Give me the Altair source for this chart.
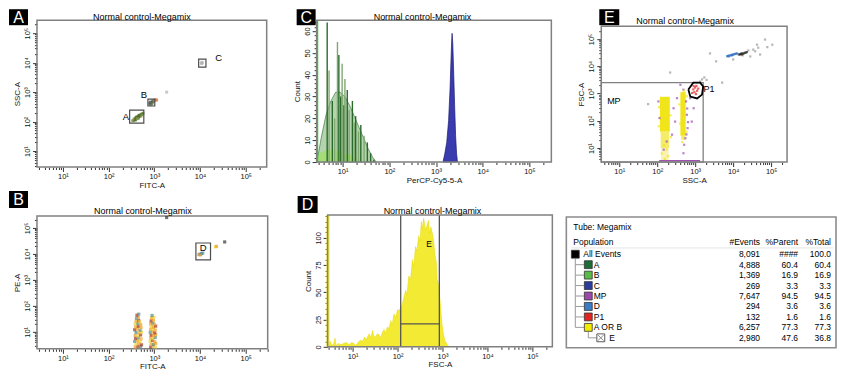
import math
import altair as alt
import pandas as pd

FONT = "Liberation Sans"
FRAME = "#808080"
GATE = "#4d4d4d"

# ======================= DATA =======================
# ---- Panel A: FITC-A vs SSC-A (log10 of event coordinates) ----
A_EV_LX = [2.53, 2.55, 2.57, 2.58, 2.60, 2.61, 2.63, 2.64, 2.66, 2.67, 2.69, 2.70, 2.72, 2.73, 2.75,
           2.56, 2.59, 2.62, 2.65, 2.68, 2.71, 2.60, 2.66, 2.63,
           2.90, 2.92, 2.94, 2.96, 2.93, 2.95, 2.91, 2.97, 3.00, 3.03, 3.05,
           4.03, 4.05, 4.04, 3.27]
A_EV_LY = [2.03, 2.05, 2.06, 2.09, 2.10, 2.12, 2.13, 2.15, 2.17, 2.18, 2.20, 2.22, 2.24, 2.26, 2.28,
           2.09, 2.06, 2.16, 2.12, 2.22, 2.19, 2.14, 2.20, 2.10,
           2.60, 2.63, 2.65, 2.67, 2.58, 2.61, 2.66, 2.70, 2.72, 2.74, 2.73,
           3.97, 3.99, 4.01, 3.00]
A_EV_POP = ["a1", "a2", "a1", "a1", "a2", "a1", "a3", "a1", "a2", "a1", "a1", "a3", "a1", "a2", "a1",
            "a2", "a1", "a1", "a3", "a1", "a2", "a1", "a1", "a2",
            "b1", "b1", "b2", "b1", "b1", "b2", "b1", "b1", "b3", "b3", "b3",
            "c", "c", "c", "c"]
A_GATE_NAME = ["A", "B", "C"]
A_GATE_X0 = [2.46, 2.86, 3.97]
A_GATE_X1 = [2.77, 3.01, 4.13]
A_GATE_Y0 = [1.95, 2.53, 3.85]
A_GATE_Y1 = [2.39, 2.76, 4.12]
A_GATE_LX = [2.38, 2.77, 4.41]
A_GATE_LY = [2.15, 2.89, 4.15]

# ---- Panel B: FITC-A vs PE-A ----
B_EV_LX = [2.58, 2.64, 2.70, 2.60, 2.66, 2.72, 2.57, 2.63, 2.69, 2.59, 2.65, 2.71, 2.58, 2.64, 2.70,
           2.60, 2.66, 2.72, 2.57, 2.63, 2.69, 2.59, 2.65, 2.71, 2.58, 2.64, 2.70, 2.60, 2.66, 2.68,
           2.61, 2.65, 2.62, 2.66,
           2.92, 2.97, 3.02, 2.93, 2.98, 3.03, 2.91, 2.96, 3.01, 2.92, 2.97, 3.02, 2.93, 2.98, 3.03,
           2.91, 2.96, 3.01, 2.92, 2.97, 3.02, 2.93, 2.98, 3.03, 2.92, 2.97, 3.00, 2.93, 2.98,
           2.94, 2.99, 2.95,
           3.97, 4.00, 4.03, 4.06, 4.01, 4.34, 4.36, 4.54, 3.27]
B_EV_LY = [0.42, 0.44, 0.43, 0.52, 0.55, 0.50, 0.63, 0.66, 0.62, 0.75, 0.77, 0.73, 0.86, 0.84, 0.88,
           0.97, 0.95, 0.99, 1.08, 1.10, 1.06, 1.19, 1.21, 1.17, 1.30, 1.32, 1.28, 1.41, 1.43, 1.39,
           1.52, 1.55, 1.64, 1.68,
           0.41, 0.45, 0.42, 0.53, 0.51, 0.55, 0.64, 0.67, 0.62, 0.76, 0.73, 0.78, 0.87, 0.85, 0.89,
           0.98, 1.00, 0.96, 1.09, 1.11, 1.07, 1.20, 1.18, 1.22, 1.31, 1.33, 1.29, 1.42, 1.44,
           1.53, 1.56, 1.63,
           3.97, 3.99, 4.01, 4.03, 3.96, 4.27, 4.29, 4.46, 5.40]
B_EV_POP = ["o", "r", "t", "y", "o", "r", "t", "o", "y", "r", "t", "o", "o", "y", "r",
            "t", "o", "y", "r", "o", "t", "o", "r", "o", "y", "t", "o", "o", "r", "y",
            "t", "o", "r", "t",
            "r", "o", "y", "o", "t", "o", "y", "r", "o", "o", "y", "t", "r", "o", "o",
            "t", "o", "r", "o", "y", "o", "y", "o", "r", "o", "t", "o", "r", "o",
            "o", "y", "t",
            "o", "t", "b", "t", "o", "y", "o", "k", "k"]
B_GATE_X0, B_GATE_X1 = [3.91], [4.23]
B_GATE_Y0, B_GATE_Y1 = [3.77], [4.42]
B_GATE_LX, B_GATE_LY = [4.07], [4.24]

# ---- Panel C: PerCP-Cy5-5-A histogram ----
C_SPIKE_LX = [0.67, 0.71, 0.78, 0.83, 0.89, 0.92, 0.96, 0.99, 1.03, 1.05, 1.10, 1.14, 1.21, 1.25,
              1.28, 1.34, 1.39, 1.46, 1.53, 1.60, 1.67]
C_SPIKE_CT = [64, 42, 28, 20, 55, 49, 30, 45, 26, 38, 33, 24, 28, 18, 21, 14, 17, 12, 9, 4, 1]
C_SPIKE_POP = ["A", "B", "A", "B", "B", "A", "A", "B", "A", "B", "A", "B", "A", "B", "A", "B",
               "A", "B", "A", "A", "A"]
C_ENV_A_LX = [0.45, 0.55, 0.65, 0.75, 0.85, 0.95, 1.05, 1.15, 1.25, 1.35, 1.45, 1.55, 1.65, 1.72]
C_ENV_A_CT = [0, 12, 22, 28, 32, 32, 30, 26, 21, 16, 11, 6, 2, 0]
C_ENV_B_LX = [0.45, 0.50, 0.70, 0.90, 1.10, 1.30, 1.45]
C_ENV_B_CT = [0, 4, 6, 5, 4, 2, 0]
C_EDGE_LX, C_EDGE_CT = [0.455], [65]
C_PEAK_LX = [3.15, 3.19, 3.23, 3.27, 3.30, 3.32, 3.335, 3.345, 3.36, 3.38, 3.40, 3.42, 3.44, 3.46]
C_PEAK_CT = [0, 4, 9, 19, 33, 46, 55, 59, 54, 40, 25, 12, 4, 0]

# ---- Panel D: FSC-A histogram of "A OR B" ----
D_LX = [0.45, 0.50, 0.54, 0.58, 0.61, 0.63, 0.68, 0.74, 0.80, 0.86, 0.92, 0.98, 1.03, 1.07, 1.12,
        1.17, 1.22, 1.27, 1.30, 1.33, 1.37, 1.41, 1.44, 1.47, 1.51, 1.55, 1.59, 1.62, 1.66, 1.70,
        1.73, 1.77, 1.81, 1.85, 1.88, 1.92, 1.96, 2.00, 2.03, 2.07, 2.10, 2.14, 2.18, 2.21, 2.25,
        2.29, 2.33, 2.36, 2.40, 2.43, 2.47, 2.50, 2.53, 2.55, 2.58, 2.61, 2.63, 2.66, 2.69, 2.71,
        2.74, 2.77, 2.80, 2.83, 2.86, 2.88, 2.91, 2.93, 2.96, 2.99, 3.02, 3.05, 3.09, 3.12, 3.17]
D_CT = [0, 5, 1, 3, 8, 1, 3, 2, 3, 4, 2, 4, 3, 1, 4,
        6, 5, 9, 6, 9, 12, 8, 15, 10, 9, 12, 11, 8, 13, 16,
        12, 18, 17, 24, 20, 30, 27, 34, 33, 36, 38, 45, 52, 48, 65,
        62, 80, 74, 92, 88, 102, 97, 115, 108, 118, 110, 108, 112, 116, 104,
        110, 105, 98, 85, 78, 62, 58, 50, 35, 20, 12, 6, 3, 1, 0]
D_EDGE_LX, D_EDGE_CT = [0.452], [121]
D_GATE_X0, D_GATE_X1, D_GATE_Y = 2.07, 2.93, 21
D_GATE_LX, D_GATE_LY = 2.70, 94

# ---- Panel E: SSC-A vs FSC-A ----
E_BIN_X0 = [2.07, 2.09, 2.10, 2.61, 2.63]
E_BIN_X1 = [2.33, 2.31, 2.30, 2.75, 2.73]
E_BIN_Y0 = [1.60, 1.00, 0.49, 1.45, 1.30]
E_BIN_Y1 = [2.88, 1.60, 1.00, 3.05, 1.45]
E_BIN_DENS = ["high", "mid", "low", "high", "mid"]
E_EV_LX = [2.76, 2.78, 2.80, 2.74, 2.71, 2.69, 2.43, 2.47, 2.39, 2.52, 2.03, 2.06, 2.87, 2.96, 2.91,
           2.61, 2.69, 2.25, 2.17, 2.79, 2.81, 2.77,
           2.95, 3.00, 3.05, 2.98, 3.03, 2.92, 3.08, 3.02, 2.96,
           3.39, 4.00, 2.34, 3.71, 4.63, 4.84, 5.03, 4.45, 4.71, 4.53, 3.13, 3.24, 1.76, 4.58, 4.66,
           4.40, 3.55, 4.25, 4.90, 3.30, 3.18,
           3.84, 3.87, 3.90, 3.93, 3.96, 3.99, 4.02, 4.05, 4.08, 4.10, 3.88, 3.97,
           4.15, 4.18, 4.21, 4.24, 4.27, 4.30, 4.33, 4.36, 4.22,
           2.05, 2.35, 2.04, 2.36, 2.12, 2.28, 2.20, 2.58, 2.78, 2.60, 2.77, 2.66, 2.70, 2.18, 2.25]
E_EV_LY = [2.71, 2.22, 1.73, 1.36, 1.12, 0.81, 2.46, 1.97, 1.49, 2.83, 2.71, 2.10, 2.83, 2.46, 1.97,
           3.32, 3.14, 1.24, 0.94, 2.45, 1.95, 1.50,
           3.15, 3.22, 3.10, 3.05, 3.28, 3.02, 3.18, 2.98, 3.27,
           4.47, 4.25, 3.77, 3.40, 4.79, 4.98, 4.79, 4.36, 4.43, 4.61, 3.44, 3.59, 2.61, 4.55, 4.68,
           4.58, 4.18, 4.40, 4.70, 3.50, 3.52,
           4.37, 4.38, 4.39, 4.40, 4.42, 4.42, 4.44, 4.45, 4.46, 4.47, 4.36, 4.40,
           4.43, 4.44, 4.46, 4.47, 4.46, 4.49, 4.50, 4.52, 4.43,
           2.50, 2.20, 1.80, 1.40, 0.80, 0.70, 0.60, 2.60, 2.90, 1.90, 1.60, 1.22, 3.10, 1.10, 0.95]
E_EV_POP = (["MP"] * 22 + ["P1"] * 9 + ["other"] * 21 + ["D"] * 12 + ["big"] * 9 + ["AorB"] * 15)
E_MP_X1, E_MP_Y1 = 3.21, 3.40
E_MPLINE_X0, E_MPLINE_X1, E_MPLINE_Y = 2.05, 3.13, 0.53
E_P1_LX = [2.82, 2.95, 3.13, 3.21, 3.18, 3.05, 2.87, 2.82]
E_P1_LY = [3.15, 3.40, 3.40, 3.26, 2.96, 2.82, 2.89, 3.15]

# ---- Population table ----
TBL_POP = ["All Events", "A", "B", "C", "MP", "D", "P1", "A OR B", "E"]
TBL_LEVEL = [0, 1, 1, 1, 1, 1, 1, 1, 2]
TBL_EVENTS = ["8,091", "4,888", "1,369", "269", "7,647", "294", "132", "6,257", "2,980"]
TBL_PARENT = ["####", "60.4", "16.9", "3.3", "94.5", "3.6", "1.6", "77.3", "47.6"]
TBL_TOTAL = ["100.0", "60.4", "16.9", "3.3", "94.5", "3.6", "1.6", "77.3", "36.8"]
TBL_HEAD = ["Population", "#Events", "%Parent", "%Total"]
TITLE = "Normal control-Megamix"

for a, b in [(A_EV_LX, A_EV_LY), (A_EV_LX, A_EV_POP), (B_EV_LX, B_EV_LY), (B_EV_LX, B_EV_POP),
             (D_LX, D_CT), (E_EV_LX, E_EV_LY), (E_EV_LX, E_EV_POP), (C_SPIKE_LX, C_SPIKE_CT)]:
    assert len(a) == len(b), (len(a), len(b))

# ======================= AXES / SCALES =======================
MAJOR_TICKS = [10, 100, 1000, 10000, 100000]
MAJOR_LABELS = ["10¹", "10²", "10³", "10⁴", "10⁵"]
MINOR_STEPS = [2, 3, 4, 5, 6, 7, 8, 9]


def log_tick_values(lo, hi):
    out = []
    for n in range(0, 6):
        for k in [1] + MINOR_STEPS:
            v = k * 10 ** n
            if lo <= math.log10(v) <= hi:
                out.append(v)
    return out


LOG_LABEL = "".join(f"datum.value == {v} ? '{s}' : " for v, s in zip(MAJOR_TICKS, MAJOR_LABELS)) + "''"
LOG_MAJOR = "indexof([" + ",".join(str(v) for v in MAJOR_TICKS) + "], datum.value) >= 0"


def tick_size(test):
    return {"condition": {"test": test, "value": 4.5}, "value": 2.5}


def x_log_axis(title, lo, hi, offset):
    return alt.Axis(title=title, orient="bottom", offset=offset, values=log_tick_values(lo, hi),
                    labelExpr=LOG_LABEL, tickSize=tick_size(LOG_MAJOR), labelOverlap=False,
                    labelFlush=False, labelPadding=1, titlePadding=1)


def y_axis(title, values, label_expr, major_test, offset):
    return alt.Axis(title=title, orient="left", offset=offset, values=values, labelExpr=label_expr,
                    tickSize=tick_size(major_test), labelOverlap=False, labelFlush=False,
                    labelAngle=270, labelAlign="center", labelBaseline="bottom",
                    labelPadding=1, titlePadding=2)


def y_log_axis(title, lo, hi, offset):
    return y_axis(title, log_tick_values(lo, hi), LOG_LABEL, LOG_MAJOR, offset)


def log_scale(lo, hi, rng):
    return alt.Scale(type="log", domain=[10 ** lo, 10 ** hi], range=rng, nice=False)


def lin_scale(hi, rng):
    return alt.Scale(type="linear", domain=[0, hi], range=rng, nice=False, zero=False)


class Panel:
    def __init__(self, xs, ys, xa, ya):
        self.xs, self.ys, self.xa, self.ya = xs, ys, xa, ya

    def x(self, f):
        return alt.X(f, type="quantitative", scale=self.xs, axis=self.xa)

    def y(self, f):
        return alt.Y(f, type="quantitative", scale=self.ys, axis=self.ya)

    def xd(self, v):
        return alt.XDatum(v, type="quantitative", scale=self.xs, axis=self.xa)

    def yd(self, v):
        return alt.YDatum(v, type="quantitative", scale=self.ys, axis=self.ya)


def one():
    return pd.DataFrame({"k": [0]})


def frame(p, x0, x1, y0, y1):
    return alt.Chart(one()).mark_rect(fillOpacity=0, stroke=FRAME, strokeWidth=1.5).encode(
        x=p.xd(x0), x2=alt.X2Datum(x1), y=p.yd(y0), y2=alt.Y2Datum(y1))


def text_px(text, x, y, size=9.0, color="black", align="center"):
    return alt.Chart(pd.DataFrame({"t": [text]})).mark_text(
        fontSize=size, color=color, align=align, baseline="middle", font=FONT).encode(
        text="t:N", x=alt.value(x), y=alt.value(y))


def letter_box(letter, x0, y0, w=19, h=16):
    box = alt.Chart(pd.DataFrame({"t": [letter]})).mark_rect(color="black").encode(
        x=alt.value(x0), x2=alt.value(x0 + w), y=alt.value(y0), y2=alt.value(y0 + h))
    return [box, text_px(letter, x0 + w / 2, y0 + h / 2 + 1, size=16, color="white")]


def lg(vals):
    return [10 ** v for v in vals]


# cell geometry: columns 270 / 240 / 272 wide, rows 185 / 140 high, spacing 10
W1, W2, W3 = 270, 240, 272
H1, H2 = 185, 140

# ======================= PANEL A =======================
A_XLO, A_XHI, A_YLO, A_YHI = 0.432, 5.459, 0.458, 5.441
pa = Panel(log_scale(A_XLO, A_XHI, [0, 230]), log_scale(A_YLO, A_YHI, [147, 0]),
           x_log_axis("FITC-A", A_XLO, A_XHI, 147 - H1),
           y_log_axis("SSC-A", A_YLO, A_YHI, 0))
a_ev = pd.DataFrame({"x": lg(A_EV_LX), "y": lg(A_EV_LY), "pop": A_EV_POP})
a_gate = pd.DataFrame({"x0": lg(A_GATE_X0), "x1": lg(A_GATE_X1), "y0": lg(A_GATE_Y0),
                       "y1": lg(A_GATE_Y1), "lx": lg(A_GATE_LX), "ly": lg(A_GATE_LY), "n": A_GATE_NAME})
panel_a = alt.layer(
    frame(pa, 10 ** A_XLO, 10 ** A_XHI, 10 ** A_YLO, 10 ** A_YHI),
    alt.Chart(a_ev).mark_square(size=9).encode(
        x=pa.x("x"), y=pa.y("y"),
        color=alt.Color("pop:N", legend=None, scale=alt.Scale(
            domain=["a1", "a2", "a3", "b1", "b2", "b3", "c"],
            range=["#4a6b2e", "#8b9b48", "#60604f", "#4f5a4f", "#6e8a5e", "#d2733a", "#b0b0b0"]))),
    alt.Chart(a_gate).mark_rect(fillOpacity=0, stroke=GATE, strokeWidth=1.2).encode(
        x=pa.x("x0"), x2="x1", y=pa.y("y0"), y2="y1"),
    alt.Chart(a_gate).mark_text(fontSize=9.5, font=FONT).encode(x=pa.x("lx"), y=pa.y("ly"), text="n:N"),
    text_px(TITLE, 105, -3.5),
    *letter_box("A", -28, -11),
).properties(width=W1, height=H1)

# ======================= PANEL C =======================
C_XLO, C_XHI = 0.444, 5.47
pc = Panel(log_scale(C_XLO, C_XHI, [0, 235]), lin_scale(65, [142, 0]),
           x_log_axis("PerCP-Cy5-5-A", C_XLO, C_XHI, 142 - H1),
           y_axis("Count", list(range(0, 65, 2)), "datum.value % 10 == 0 ? datum.label : ''",
                  "datum.value % 10 == 0", 0))
c_envA = pd.DataFrame({"x": lg(C_ENV_A_LX), "ct": C_ENV_A_CT})
c_envB = pd.DataFrame({"x": lg(C_ENV_B_LX), "ct": C_ENV_B_CT})
c_sp = pd.DataFrame({"x": lg(C_SPIKE_LX), "ct": C_SPIKE_CT, "base": 0, "pop": C_SPIKE_POP})
c_edge = pd.DataFrame({"x": lg(C_EDGE_LX), "ct": C_EDGE_CT, "base": 0})
c_pk = pd.DataFrame({"x": lg(C_PEAK_LX), "ct": C_PEAK_CT})
panel_c = alt.layer(
    alt.Chart(c_envA).mark_area(fill="#6aa860", fillOpacity=0.5, stroke="#2f6a2f", strokeWidth=0.6).encode(
        x=pc.x("x"), y=pc.y("ct"), y2=alt.Y2Datum(0)),
    alt.Chart(c_envB).mark_area(fill="#9ee060", fillOpacity=0.7).encode(
        x=pc.x("x"), y=pc.y("ct"), y2=alt.Y2Datum(0)),
    alt.Chart(c_sp).mark_rule(strokeWidth=1.4).encode(
        x=pc.x("x"), y=pc.y("base"), y2="ct",
        color=alt.Color("pop:N", legend=None, scale=alt.Scale(domain=["A", "B"], range=["#2a6a2a", "#7fa870"]))),
    alt.Chart(c_edge).mark_rule(strokeWidth=2.2, color="#2ecc2e").encode(x=pc.x("x"), y=pc.y("base"), y2="ct"),
    alt.Chart(c_pk).mark_area(fill="#3b3bb0", stroke="#1c1c70", strokeWidth=0.7).encode(
        x=pc.x("x"), y=pc.y("ct"), y2=alt.Y2Datum(0)),
    frame(pc, 10 ** C_XLO, 10 ** C_XHI, 0, 65),
    text_px(TITLE, 106, -3.5),
    *letter_box("C", -20, -11),
).properties(width=W2, height=H1)

# ======================= PANEL E =======================
E_XLO, E_XHI, E_YLO, E_YHI = 0.526, 5.42, 0.487, 5.469
pe = Panel(log_scale(E_XLO, E_XHI, [35, 221]), log_scale(E_YLO, E_YHI, [142, 6]),
           x_log_axis("SSC-A", E_XLO, E_XHI, 142 - H1),
           y_log_axis("FSC-A", E_YLO, E_YHI, -35))
e_bins = pd.DataFrame({"x0": lg(E_BIN_X0), "x1": lg(E_BIN_X1), "y0": lg(E_BIN_Y0), "y1": lg(E_BIN_Y1),
                       "d": E_BIN_DENS})
e_ev = pd.DataFrame({"x": lg(E_EV_LX), "y": lg(E_EV_LY), "pop": E_EV_POP})
e_mpline = pd.DataFrame({"x0": lg([E_MPLINE_X0]), "x1": lg([E_MPLINE_X1]), "y": lg([E_MPLINE_Y])})
e_p1 = pd.DataFrame({"x": lg(E_P1_LX), "y": lg(E_P1_LY), "i": list(range(len(E_P1_LX)))})
e_lab = pd.DataFrame({"x": lg([0.68, 3.22]), "y": lg([2.74, 3.17]), "t": ["MP", "P1"]})
panel_e = alt.layer(
    alt.Chart(e_bins).mark_rect().encode(
        x=pe.x("x0"), x2="x1", y=pe.y("y0"), y2="y1",
        color=alt.Color("d:N", legend=None, scale=alt.Scale(
            domain=["high", "mid", "low"], range=["#f0e41a", "#f4ec6a", "#f8f3b5"]))),
    alt.Chart(e_mpline).mark_rule(color="#a050b0", strokeWidth=1.5).encode(x=pe.x("x0"), x2="x1", y=pe.y("y")),
    alt.Chart(e_ev).mark_square(size=5).encode(
        x=pe.x("x"), y=pe.y("y"),
        color=alt.Color("pop:N", legend=None, scale=alt.Scale(
            domain=["MP", "P1", "other", "D", "big", "AorB"],
            range=["#a050b0", "#e0241f", "#999999", "#2f6fc0", "#222222", "#f0e41a"]))),
    alt.Chart(one()).mark_rect(fillOpacity=0, stroke=FRAME, strokeWidth=1.3).encode(
        x=pe.xd(10 ** E_XLO), x2=alt.X2Datum(10 ** E_MP_X1),
        y=pe.yd(10 ** E_YLO), y2=alt.Y2Datum(10 ** E_MP_Y1)),
    alt.Chart(e_p1).mark_line(color="black", strokeWidth=1.8).encode(
        x=pe.x("x"), y=pe.y("y"), order="i:Q"),
    alt.Chart(e_lab).mark_text(fontSize=9, align="left", font=FONT).encode(
        x=pe.x("x"), y=pe.y("y"), text="t:N"),
    frame(pe, 10 ** E_XLO, 10 ** E_XHI, 10 ** E_YLO, 10 ** E_YHI),
    text_px(TITLE, 119, 1),
    *letter_box("E", 33, -11, w=20),
).resolve_scale(color="independent").properties(width=W3, height=H1)

# ======================= PANEL B =======================
B_XLO, B_XHI, B_YLO, B_YHI = 0.432, 5.481, 0.346, 5.46
pb = Panel(log_scale(B_XLO, B_XHI, [0, 231]), log_scale(B_YLO, B_YHI, [134, 1]),
           x_log_axis("FITC-A", B_XLO, B_XHI, 134 - H2),
           y_log_axis("PE-A", B_YLO, B_YHI, 0))
b_ev = pd.DataFrame({"x": lg(B_EV_LX), "y": lg(B_EV_LY), "pop": B_EV_POP})
b_gate = pd.DataFrame({"x0": lg(B_GATE_X0), "x1": lg(B_GATE_X1), "y0": lg(B_GATE_Y0), "y1": lg(B_GATE_Y1),
                       "lx": lg(B_GATE_LX), "ly": lg(B_GATE_LY), "n": ["D"]})
panel_b = alt.layer(
    frame(pb, 10 ** B_XLO, 10 ** B_XHI, 10 ** B_YLO, 10 ** B_YHI),
    alt.Chart(b_ev).mark_square(size=10).encode(
        x=pb.x("x"), y=pb.y("y"),
        color=alt.Color("pop:N", legend=None, scale=alt.Scale(
            domain=["o", "r", "t", "y", "b", "k"],
            range=["#f0a020", "#a0301c", "#4f8f86", "#f0d030", "#3a78c4", "#333333"]))),
    alt.Chart(b_gate).mark_rect(fillOpacity=0, stroke=GATE, strokeWidth=1.2).encode(
        x=pb.x("x0"), x2="x1", y=pb.y("y0"), y2="y1"),
    alt.Chart(b_gate).mark_text(fontSize=9.5, font=FONT).encode(x=pb.x("lx"), y=pb.y("ly"), text="n:N"),
    text_px(TITLE, 106, -3.5),
    *letter_box("B", -28, -24, h=17),
).properties(width=W1, height=H2)

# ======================= PANEL D =======================
D_XLO, D_XHI = 0.444, 5.444
pdd = Panel(log_scale(D_XLO, D_XHI, [11, 236]), lin_scale(121, [132, 0]),
            x_log_axis("FSC-A", D_XLO, D_XHI, 132 - H2),
            y_axis("Count", list(range(0, 121, 5)), "datum.value % 25 == 0 ? datum.label : ''",
                   "datum.value % 25 == 0", -11))
d_hist = pd.DataFrame({"x": lg(D_LX), "ct": D_CT})
d_edge = pd.DataFrame({"x": lg(D_EDGE_LX), "ct": D_EDGE_CT, "base": 0})
d_v = pd.DataFrame({"x": lg([D_GATE_X0, D_GATE_X1]), "base": 0, "top": 121})
d_h = pd.DataFrame({"x0": lg([D_GATE_X0]), "x1": lg([D_GATE_X1]), "y": [D_GATE_Y]})
d_lab = pd.DataFrame({"x": lg([D_GATE_LX]), "y": [D_GATE_LY], "t": ["E"]})
panel_d = alt.layer(
    alt.Chart(d_hist).mark_area(fill="#f3ea33", stroke="#e6d800", strokeWidth=0.5).encode(
        x=pdd.x("x"), y=pdd.y("ct"), y2=alt.Y2Datum(0)),
    alt.Chart(d_edge).mark_rule(strokeWidth=3, color="#f3ea33").encode(x=pdd.x("x"), y=pdd.y("base"), y2="ct"),
    alt.Chart(d_v).mark_rule(color="#555555", strokeWidth=1.3).encode(x=pdd.x("x"), y=pdd.y("base"), y2="top"),
    alt.Chart(d_h).mark_rule(color="#555555", strokeWidth=1.3).encode(x=pdd.x("x0"), x2="x1", y=pdd.y("y")),
    alt.Chart(d_lab).mark_text(fontSize=8.5, font=FONT).encode(x=pdd.x("x"), y=pdd.y("y"), text="t:N"),
    frame(pdd, 10 ** D_XLO, 10 ** D_XHI, 0, 121),
    text_px(TITLE, 116, -3.5),
    *letter_box("D", -19, -19, w=20, h=17),
).properties(width=W2, height=H2)

# ======================= TABLE =======================
ts = alt.Scale(type="linear", domain=[0, 8], range=[39.3, 123], nice=False, zero=False)
rows = list(range(len(TBL_POP)))
tbl = pd.DataFrame({"row": rows, "pop": TBL_POP, "lvl": TBL_LEVEL, "ev": TBL_EVENTS,
                    "par": TBL_PARENT, "tot": TBL_TOTAL})
ROWY = alt.Y("row:Q", scale=ts, axis=None)
BOX_X = [9, 22, 34.5]
TXT_X = [17, 27.5, 43]
last1 = max(i for i, l in enumerate(TBL_LEVEL) if l == 1)
tree_v = pd.DataFrame({"r0": [0.45, last1 + 0.45], "r1": [last1, len(rows) - 1]})
tree_h1 = pd.DataFrame({"row": [i for i, l in enumerate(TBL_LEVEL) if l == 1]})
tree_h2 = pd.DataFrame({"row": [i for i, l in enumerate(TBL_LEVEL) if l == 2]})
pop_colors = alt.Scale(domain=TBL_POP,
                       range=["#000000", "#1d6b35", "#5bbb48", "#2c3c9e", "#9a4aab", "#3a7dc6",
                              "#e0241f", "#f2ea00", "#ffffff"])
tlayers = [
    alt.Chart(one()).mark_rect(fillOpacity=0, stroke="#8c8c8c", strokeWidth=1.6).encode(
        x=alt.value(0), x2=alt.value(270), y=alt.value(2), y2=alt.value(133)),
    alt.Chart(pd.DataFrame({"row": [-0.6]})).mark_rule(color="#e4e4e4", strokeWidth=1).encode(
        x=alt.value(5), x2=alt.value(267), y=ROWY),
    alt.Chart(tree_v.iloc[[0]]).mark_rule(color="#9a9a9a", strokeWidth=1).encode(
        x=alt.value(BOX_X[0]), y=alt.Y("r0:Q", scale=ts, axis=None), y2="r1:Q"),
    alt.Chart(tree_v.iloc[[1]]).mark_rule(color="#9a9a9a", strokeWidth=1).encode(
        x=alt.value(BOX_X[1]), y=alt.Y("r0:Q", scale=ts, axis=None), y2="r1:Q"),
    alt.Chart(tree_h1).mark_rule(color="#9a9a9a", strokeWidth=1).encode(
        x=alt.value(BOX_X[0]), x2=alt.value(BOX_X[1] - 4), y=ROWY),
    alt.Chart(tree_h2).mark_rule(color="#9a9a9a", strokeWidth=1).encode(
        x=alt.value(BOX_X[1]), x2=alt.value(BOX_X[2] - 4), y=ROWY),
]
for lvl in range(3):
    sub = tbl[tbl["lvl"] == lvl]
    tlayers.append(alt.Chart(sub).mark_square(size=62, stroke="#333333", strokeWidth=0.8, opacity=1).encode(
        x=alt.value(BOX_X[lvl]), y=ROWY,
        color=alt.Color("pop:N", scale=pop_colors, legend=None)))
    tlayers.append(alt.Chart(sub).mark_text(align="left", fontSize=8.5, font=FONT).encode(
        x=alt.value(TXT_X[lvl]), y=ROWY, text="pop:N"))
tlayers.append(alt.Chart(tbl[tbl["lvl"] == 2]).mark_point(
    shape="M-1,-1L1,1M1,-1L-1,1", size=30, color="#555555", strokeWidth=1).encode(x=alt.value(BOX_X[2]), y=ROWY))
for col, xr in [("ev", 194), ("par", 232), ("tot", 265)]:
    tlayers.append(alt.Chart(tbl).mark_text(align="right", fontSize=8.5, font=FONT).encode(
        x=alt.value(xr), y=ROWY, text=f"{col}:N"))
head = pd.DataFrame({"row": [-1.2] * 4, "t": TBL_HEAD})
for i, (al, xr) in enumerate([("left", 7), ("right", 194), ("right", 232), ("right", 265)]):
    tlayers.append(alt.Chart(head.iloc[[i]]).mark_text(align=al, fontSize=8.5, font=FONT).encode(
        x=alt.value(xr), y=ROWY, text="t:N"))
tlayers.append(alt.Chart(pd.DataFrame({"row": [-2.6], "t": ["Tube: Megamix"]})).mark_text(
    align="left", fontSize=8.5, font=FONT).encode(x=alt.value(7), y=ROWY, text="t:N"))
panel_t = alt.layer(*tlayers).properties(width=W3, height=H2)

# ======================= ASSEMBLE =======================
chart = alt.concat(panel_a, panel_c, panel_e, panel_b, panel_d, panel_t,
                   columns=3, spacing=10, bounds="flush", align="each").resolve_scale(
    color="independent"
).properties(
    padding=0
).configure_view(stroke="transparent").configure_axis(
    labelFont=FONT, titleFont=FONT, labelFontSize=7.5, titleFontSize=8, titleFontWeight="normal",
    labelColor="#111111", titleColor="#111111", tickColor="#333333", domain=False, grid=False,
).configure_text(font=FONT)

chart.save("out.html", embed_options={"renderer": "svg", "actions": False})
